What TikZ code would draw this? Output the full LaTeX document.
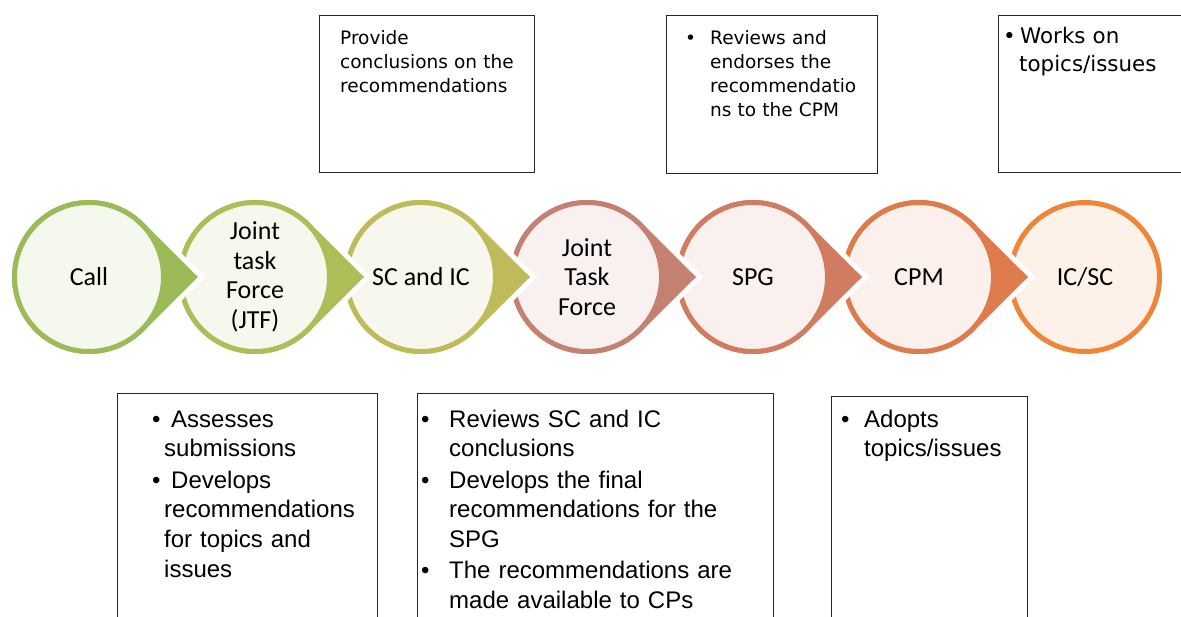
\documentclass[tikz,border=0pt]{standalone}
\usepackage{fontspec}
\newfontfamily\calfont{Carlito}
\newfontfamily\verfont{DejaVu Sans}
\newfontfamily\arfont{Liberation Sans}
\usetikzlibrary{calc}
\definecolor{s1}{HTML}{9BBB59}
\definecolor{s2}{HTML}{ADBE58}
\definecolor{s3}{HTML}{BFBA5A}
\definecolor{s4}{HTML}{C48070}
\definecolor{s5}{HTML}{D07C60}
\definecolor{s6}{HTML}{DD7B4C}
\definecolor{s7}{HTML}{EF8538}
\definecolor{boxline}{HTML}{262626}
\newcommand\teardrop[2]{%
  \fill[#2, preaction={draw=white, line width=10pt, line join=miter}]
    ($(#1)+(45:77)$) -- ($(#1)+(109,0)$) -- ($(#1)+(-45:77)$)
    arc[start angle=-45, end angle=-315, radius=77] -- cycle;}
\begin{document}
\begin{tikzpicture}[x=1pt,y=-1pt,
  stage/.style={circle, minimum size=149pt, inner sep=0pt, line width=5pt,
    draw=#1, fill=#1!11!white, align=center, text=black,
    font=\calfont\fontsize{26}{29.5}\selectfont},
  infobox/.style={draw=boxline, line width=1.2pt, anchor=north west, inner sep=0pt},
  topitem/.style={anchor=base west, inner sep=0pt, text width=200pt, align=left,
    font=\verfont\fontsize{18.5}{24}\selectfont},
  topitemC/.style={anchor=base west, inner sep=0pt, text width=180pt, align=left,
    font=\verfont\fontsize{21.4}{27.8}\selectfont},
  botitem/.style={anchor=base west, inner sep=0pt, text width=330pt, align=left,
    font=\arfont\fontsize{24}{29.6}\selectfont},
  topbullet/.style={anchor=base west, inner sep=0pt, font=\verfont\fontsize{18.5}{24}\selectfont},
  topbulletC/.style={anchor=base west, inner sep=0pt, font=\verfont\fontsize{21.4}{27.8}\selectfont},
  botbullet/.style={anchor=base west, inner sep=0pt, font=\arfont\fontsize{24}{29.6}\selectfont}
]
\useasboundingbox (0,0) rectangle (1181,617);
\clip (0,0) rectangle (1181,617);

% centres of the stages
\coordinate (p1) at (89,277);
\coordinate (p2) at (255,277);
\coordinate (p3) at (421,277);
\coordinate (p4) at (587,277);
\coordinate (p5) at (753,277);
\coordinate (p6) at (919,277);
\coordinate (p7) at (1085,277);

% drawn from right to left so each pointer lies over the next circle
\node[stage=s7] (c7) at (p7) {IC/SC};
\teardrop{p6}{s6}
\node[stage=s6] (c6) at (p6) {CPM};
\teardrop{p5}{s5}
\node[stage=s5] (c5) at (p5) {SPG};
\teardrop{p4}{s4}
\node[stage=s4] (c4) at (p4) {Joint\\Task\\Force};
\teardrop{p3}{s3}
\node[stage=s3] (c3) at (p3) {SC and IC};
\teardrop{p2}{s2}
\node[stage=s2] (c2) at (p2) {Joint\\task\\Force\\(JTF)};
\teardrop{p1}{s1}
\node[stage=s1] (c1) at (p1) {Call};

% top boxes
\node[infobox, minimum width=215pt, minimum height=157pt] (ta) at (319,15) {};
\node[topitem] (tat) at (340,45) {Provide\\conclusions on the\\recommendations};

\node[infobox, minimum width=211pt, minimum height=158pt] (tb) at (666,15) {};
\node[topbullet] (tbb) at (685,45) {•};
\node[topitem] (tbt) at (710,45) {Reviews and\\endorses the\\recommendatio\\ns to the CPM};

\node[infobox, minimum width=210pt, minimum height=157pt] (tc) at (998,15) {};
\node[topbulletC] (tcb) at (1003,44) {•};
\node[topitemC] (tct) at (1019,44) {\hspace*{1pt}Works on\\topics/issues};

% bottom boxes
\node[infobox, minimum width=260pt, minimum height=250pt] (ba) at (117,393) {};
\node[botbullet] (bab1) at (152,427.3) {•};
\node[botitem] (bat1) at (164,427.3) {\hspace*{7pt}Assesses\\submissions};
\node[botbullet] (bab2) at (152,488.3) {•};
\node[botitem] (bat2) at (164,488.3) {\hspace*{7pt}Develops\\recommendations\\for topics and\\issues};

\node[infobox, minimum width=356pt, minimum height=250pt] (bb) at (417,393) {};
\node[botbullet] (bbb1) at (421,427.3) {•};
\node[botitem] (bbt1) at (449,427.3) {Reviews SC and IC\\conclusions};
\node[botbullet] (bbb2) at (421,488.3) {•};
\node[botitem] (bbt2) at (449,488.3) {Develops the final\\recommendations for the\\SPG};
\node[botbullet] (bbb3) at (421,578.5) {•};
\node[botitem] (bbt3) at (449,578.5) {The recommendations are\\made available to CPs};

\node[infobox, minimum width=196pt, minimum height=250pt] (bc) at (831,396) {};
\node[botbullet] (bcb1) at (841,427.3) {•};
\node[botitem] (bct1) at (864,427.3) {Adopts\\topics/issues};
\end{tikzpicture}
\end{document}
